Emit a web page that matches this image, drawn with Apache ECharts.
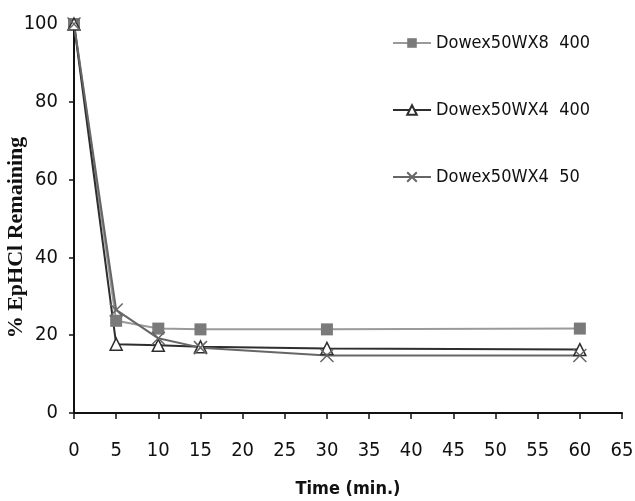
<!DOCTYPE html>
<html><head><meta charset="utf-8">
<script src="https://cdn.jsdelivr.net/npm/echarts@6/dist/echarts.min.js"></script>
<style>html,body{margin:0;padding:0;background:#fff}#c{width:635px;height:501px}</style>
</head><body><div id="c"></div>
<script>
const times = [0, 5, 10, 15, 30, 60];
const wx8_400 = [100, 23.7, 21.7, 21.5, 21.5, 21.7];
const wx4_400 = [100, 17.7, 17.4, 17.0, 16.6, 16.3];
const wx4_50 = [100, 26.5, 19.2, 16.8, 14.8, 14.8];
const names = ['Dowex50WX8  400', 'Dowex50WX4  400', 'Dowex50WX4  50'];
const xTicks = [0,5,10,15,20,25,30,35,40,45,50,55,60,65];
const yTicks = [0,20,40,60,80,100];

const font = '"DejaVu Sans Condensed", "Liberation Sans Narrow", sans-serif';
const chart = echarts.init(document.getElementById('c'));
const pair = (arr) => times.map((t, i) => [t, arr[i]]);
chart.setOption({
  animation: false,
  backgroundColor: '#fff',
  grid: { left: 74, right: 13, top: 24, bottom: 88, containLabel: false, outerBoundsMode: 'none' },
  legend: {
    orient: 'vertical', left: 392, top: 34, padding: 0,
    itemWidth: 38, itemHeight: 12, itemGap: 49,
    textStyle: { fontFamily: font, fontSize: 18, color: '#111' },
    data: names
  },
  xAxis: {
    type: 'value', min: xTicks[0], max: xTicks[xTicks.length-1], interval: 5,
    name: 'Time (min.)', nameLocation: 'middle', nameGap: 67, nameMoveOverlap: false,
    nameTextStyle: { fontFamily: font, fontWeight: 'bold', fontSize: 18, color: '#111' },
    axisLine: { lineStyle: { color: '#111', width: 2 } },
    axisTick: { length: 6, lineStyle: { color: '#111', width: 1.5 } },
    axisLabel: { fontFamily: font, fontSize: 20, color: '#111', margin: 28 },
    splitLine: { show: false }
  },
  yAxis: {
    type: 'value', min: yTicks[0], max: yTicks[yTicks.length-1], interval: 20,
    name: '% EpHCl Remaining', nameLocation: 'middle', nameGap: 47, nameRotate: 90, nameMoveOverlap: false,
    nameTextStyle: { fontFamily: '"Liberation Serif", "Times New Roman", serif', fontWeight: 'bold', fontSize: 22, color: '#111', padding: [0, 38, 0, 0] },
    axisLine: { show: true, lineStyle: { color: '#111', width: 2 } },
    axisTick: { show: true, length: 5, lineStyle: { color: '#111', width: 1.5 } },
    axisLabel: { fontFamily: font, fontSize: 20, color: '#111', margin: 16 },
    splitLine: { show: false }
  },
  series: [
    {
      name: names[0], type: 'line', data: pair(wx8_400),
      symbol: 'rect', symbolSize: 12,
      lineStyle: { color: '#9a9a9a', width: 2 },
      itemStyle: { color: '#7a7a7a', borderColor: '#7a7a7a', borderWidth: 0 }
    },
    {
      name: names[1], type: 'line', data: pair(wx4_400),
      symbol: 'triangle', symbolSize: 12,
      lineStyle: { color: '#2e2e2e', width: 2 },
      itemStyle: { color: '#fff', borderColor: '#2e2e2e', borderWidth: 1.5 }
    },
    {
      name: names[2], type: 'line', data: pair(wx4_50),
      symbol: 'path://M0,0L10,10M10,0L0,10', symbolSize: 13,
      lineStyle: { color: '#666', width: 2 },
      itemStyle: { color: 'none', borderColor: '#666', borderWidth: 1.5 }
    }
  ]
});
</script></body></html>
